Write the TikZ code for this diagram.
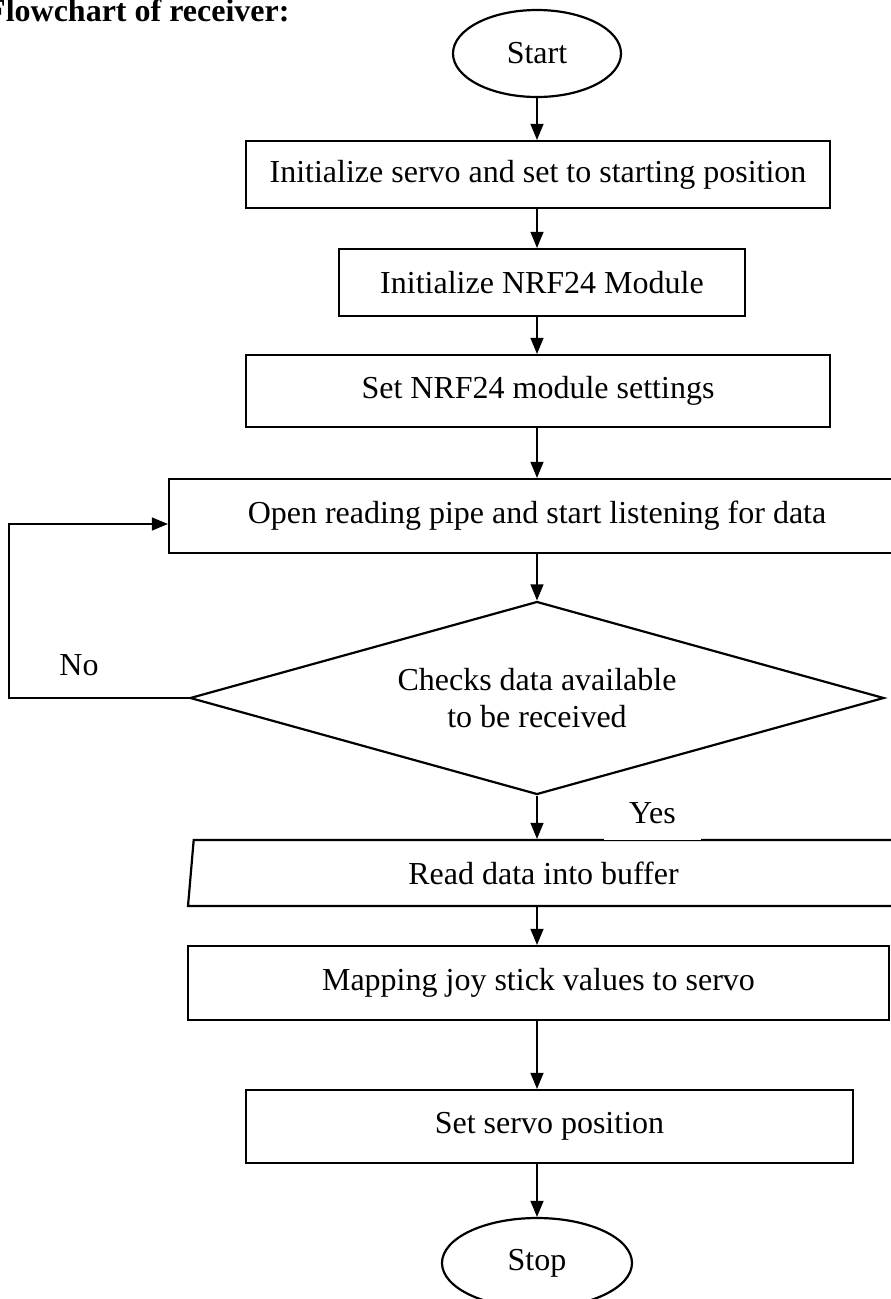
\documentclass[tikz,border=0pt]{standalone}
\usepackage{fontspec}
\setmainfont{Liberation Serif}
\usetikzlibrary{arrows.meta,shapes.geometric}

\begin{document}
\begin{tikzpicture}[
  x=1pt,y=-1pt,
  font=\fontsize{32}{37}\selectfont,
  block/.style={draw,line width=2.2pt,inner sep=0pt,align=center},
  term/.style={block,ellipse},
  decision/.style={block,diamond,aspect=3.6},
  io/.style={block,trapezium,trapezium left angle=76,trapezium right angle=104,trapezium stretches body},
  flow/.style={-{Triangle[length=16pt,width=13pt]},line width=1.2pt},
  lab/.style={inner sep=0pt}
]
\useasboundingbox (0,0) rectangle (891,1299);
\node[anchor=base east,font=\fontsize{32}{37}\selectfont\bfseries] (title) at (293,21) {Flowchart of receiver:};
\node[term,minimum width=168pt,minimum height=87pt] (start) at (537,53.5) {Start};
\node[block,minimum width=584pt,minimum height=67pt] (init) at (538,174.5) {Initialize servo and set to starting position};
\node[block,minimum width=406pt,minimum height=67pt] (nrf) at (542,282.5) {Initialize NRF24 Module};
\node[block,minimum width=584pt,minimum height=72pt] (set) at (538,391) {Set NRF24 module settings};
\node[block,minimum width=736pt,minimum height=74pt] (listen) at (537,516) {Open reading pipe and start listening for data};
\node[decision,minimum width=694pt,minimum height=193pt] (check) at (537,698) {Checks data available\\to be received};
\node[io,minimum width=711pt,minimum height=66pt] (read) at (543.5,873) {Read data into buffer};
\node[block,minimum width=701pt,minimum height=74pt] (map) at (538.5,983) {Mapping joy stick values to servo};
\node[block,minimum width=607pt,minimum height=73pt] (servo) at (549.5,1126.5) {Set servo position};
\node[term,minimum width=190pt,minimum height=90pt] (stop) at (537,1263) {Stop};
\node[lab] (no) at (79,665) {No};
\node[lab,fill=white,minimum width=97pt,minimum height=53pt] (yes) at (652.5,813) {Yes};
\draw[flow] (start.south) -- (start.south |- init.north);
\draw[flow] (init.south -| start) -- (nrf.north -| start);
\draw[flow] (nrf.south -| start) -- (set.north -| start);
\draw[flow] (set.south -| start) -- (listen.north -| start);
\draw[flow] (listen.south -| start) -- (check.north);
\draw[flow] (check.south) -- (read.north -| start);
\draw[flow] (read.south -| start) -- (map.north -| start);
\draw[flow] (map.south -| start) -- (servo.north -| start);
\draw[flow] (servo.south -| start) -- (stop.north);
\draw[flow] (check.west) -- ++(-180,0) |- ([yshift=-8pt]listen.west);
\end{tikzpicture}
\end{document}
